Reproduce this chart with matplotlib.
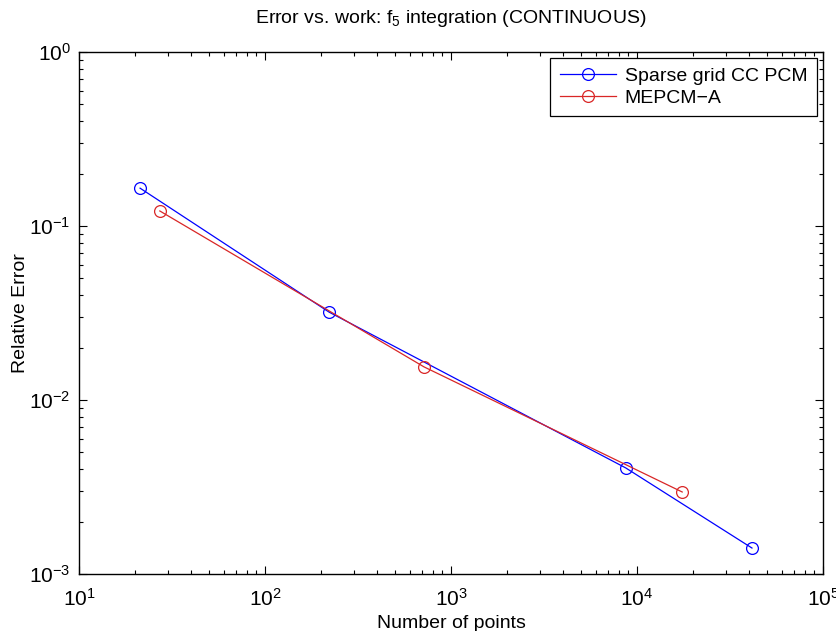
import numpy as np
import matplotlib
matplotlib.use('Agg')
import matplotlib.pyplot as plt

plt.rcParams['font.family'] = ['Liberation Sans', 'DejaVu Sans']
plt.rcParams['mathtext.fontset'] = 'custom'
plt.rcParams['mathtext.rm'] = 'Liberation Sans'
plt.rcParams['mathtext.it'] = 'Liberation Sans:italic'
plt.rcParams['mathtext.default'] = 'regular'

# -------------------------------
# Data
# -------------------------------
sparse_n = [21.3, 221, 8700, 41500]
sparse_err = [0.165, 0.032, 0.00407, 0.00141]

mepcm_n = [27.2, 716, 17500]
mepcm_err = [0.122, 0.0155, 0.00296]

labels = ['Sparse grid CC PCM', 'MEPCM\u2212A']

# -------------------------------
# Plot
# -------------------------------
fig = plt.figure(figsize=(8.36, 6.31), dpi=100)
ax = fig.add_axes([79 / 836, 1 - 574 / 631, 744 / 836, 522 / 631])

ax.loglog(sparse_n, sparse_err, '-o', color='#0000ff', lw=0.9,
          markersize=8.5, markerfacecolor='none', markeredgewidth=0.9, label=labels[0])
ax.loglog(mepcm_n, mepcm_err, '-o', color='#d92626', lw=0.9,
          markersize=8.5, markerfacecolor='none', markeredgewidth=0.9, label=labels[1])

ax.set_xlim(10, 1e5)
ax.set_ylim(1e-3, 1)
ax.tick_params(which='both', direction='in', top=True, right=True, labelsize=15, width=0.8)
ax.tick_params(which='major', length=6, pad=6)
ax.tick_params(axis='x', which='major', pad=10)
ax.tick_params(which='minor', length=3)
for s in ax.spines.values():
    s.set_linewidth(1.0)

ax.set_xlabel('Number of points', fontsize=14, labelpad=4)
ax.set_ylabel('Relative Error', fontsize=14, labelpad=0)
ax.set_title('Error vs. work: f$_5$ integration (CONTINUOUS)', fontsize=14, pad=21)

leg = ax.legend(loc='upper right', fontsize=14, fancybox=False, edgecolor='black',
                framealpha=1, borderaxespad=0.3, handlelength=2.9, borderpad=0.5,
                labelspacing=0.2, handletextpad=0.45)
leg.get_frame().set_linewidth(0.9)

fig.savefig('out.png', dpi=100)
